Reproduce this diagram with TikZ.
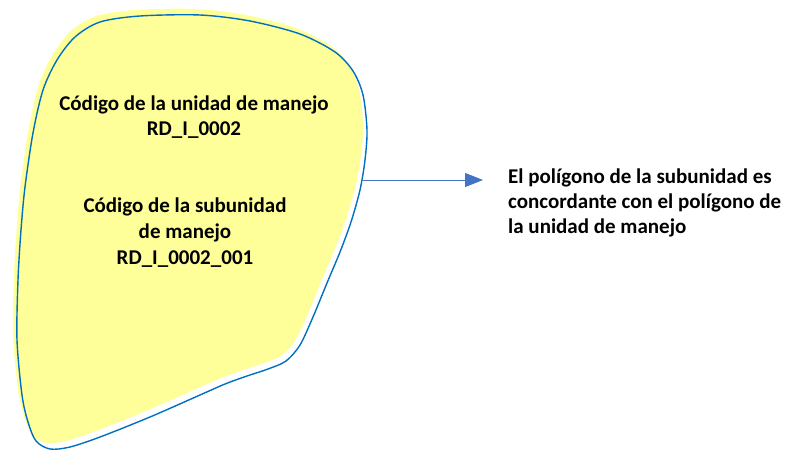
\documentclass[tikz,border=0pt]{standalone}
\usepackage{fontspec}
\setmainfont{Carlito}
\definecolor{blobyellow}{RGB}{255, 255, 153}
\definecolor{blobblue}{RGB}{0, 112, 192}
\definecolor{arrowblue}{RGB}{68, 114, 196}
\usetikzlibrary{arrows.meta, positioning, calc}

\def\blobpoints{(100,22) (140,16) (200,15) (250,21) (300,34) (335,52) (353,71)
  (363,95) (367,130) (365,160) (360,190) (351,222) (340,252) (327,283)
  (313,317) (300,345) (286,361) (268,369) (247,376) (225,384) (200,395)
  (150,417) (100,437) (70,447) (50,449) (36,441) (28,422) (22,395)
  (17,340) (18,280) (21,230) (25,187) (33,133) (43,90) (57,60) (75,37)}

\begin{document}
\begin{tikzpicture}[x=1pt, y=-1pt]
  \useasboundingbox (0,0) rectangle (792,450);

  % yellow patch behind the outline
  \fill[blobyellow, shift={(-4,-6)}] plot[smooth cycle, tension=0.5] coordinates {\blobpoints};

  % unit outline
  \draw[blobblue, line width=1.4pt] plot[smooth cycle, tension=0.5] coordinates {\blobpoints};

  % unit code
  \node[font=\fontsize{21}{25}\selectfont\bfseries, align=center] (unitcode) at (194,117) {
    Código de la unidad de manejo\\
    RD\_I\_0002
  };

  % subunit code
  \node[font=\fontsize{21}{26}\selectfont\bfseries, align=center] (subunitcode) at (185,233) {
    Código de la subunidad\\
    de manejo\\
    RD\_I\_0002\_001
  };

  % arrow to the note
  \coordinate (blobedge) at (363,180);
  \coordinate (arrowtip) at (483,180);
  \draw[arrowblue, line width=1pt, -{Triangle[length=18pt, width=14pt]}] (blobedge) -- (arrowtip);

  % note
  \node[font=\fontsize{21}{25}\selectfont\bfseries, align=left, anchor=west, inner sep=0pt] (note) at (508,203) {
    El polígono de la subunidad es\\
    concordante con el polígono de\\
    la unidad de manejo
  };
\end{tikzpicture}
\end{document}
